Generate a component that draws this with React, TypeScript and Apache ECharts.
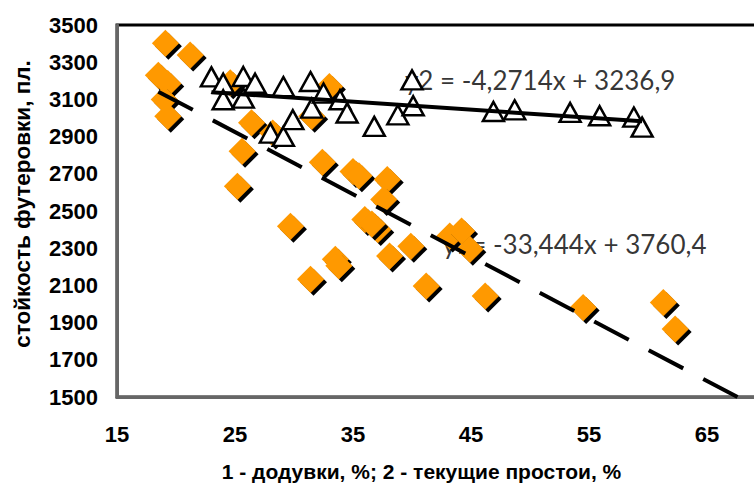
import React, { useEffect, useRef } from "react";
import * as echarts from "echarts";

// Series 1: додувки, % vs стойкость футеровки
const blowX = [19.1, 21.2, 18.5, 19.3, 19.0, 19.3, 24.6, 26.4, 28.2, 25.6, 25.2, 33.0, 31.5, 32.4, 35.0, 35.5, 37.9, 37.6, 36.0, 37.1, 36.6, 38.1, 29.7, 31.4, 33.5, 33.8, 39.9, 41.2, 43.2, 44.2, 44.9, 46.2, 54.5, 61.3, 62.3];
const blowY = [3402, 3339, 3230, 3185, 3100, 3010, 3190, 2975, 2920, 2821, 2633, 3170, 3010, 2762, 2713, 2690, 2669, 2562, 2454, 2400, 2430, 2258, 2418, 2133, 2240, 2205, 2311, 2097, 2365, 2392, 2294, 2043, 1981, 2008, 1865];

// Series 2: текущие простои, % vs стойкость футеровки
const idleX = [23.0, 24.0, 24.0, 25.7, 25.7, 26.7, 28.0, 29.1, 29.1, 29.9, 31.4, 31.5, 32.5, 33.9, 34.5, 36.8, 38.8, 40.1, 40.0, 46.9, 48.7, 53.4, 55.9, 58.8, 59.5];
const idleY = [3221, 3187, 3098, 3223, 3107, 3187, 2919, 2901, 3169, 2991, 3196, 3053, 3134, 3098, 3027, 2955, 3017, 3066, 3205, 3035, 3044, 3030, 3012, 3005, 2951];

// Linear trends
const trend1 = { slope: -33.444, intercept: 3760.4 };
const trend2 = { slope: -4.2714, intercept: 3236.9 };
const trend1Text = "y1= -33,444x + 3760,4";
const trend2Text = "y2 = -4,2714x + 3236,9";

// Tick labels
const xTickLabels = [15, 25, 35, 45, 55, 65];
const yTickLabels = [1500, 1700, 1900, 2100, 2300, 2500, 2700, 2900, 3100, 3300, 3500];

const X_MIN = 15;
const X_MAX = 70;
const Y_MIN = 1500;
const Y_MAX = 3500;

const CHART_W = 770;
const CHART_H = 487;

const tickFont = "'Liberation Sans', Arial, sans-serif";
const eqFont = "Lato, 'Liberation Sans', sans-serif";

function zip(xs: number[], ys: number[]) {
  return xs.map((x, i) => [x, ys[i]]);
}

function trendPoints(t: { slope: number; intercept: number }, x0: number, x1: number) {
  return [
    [x0, t.slope * x0 + t.intercept],
    [x1, t.slope * x1 + t.intercept],
  ];
}

export default function App() {
  const ref = useRef<HTMLDivElement>(null);

  useEffect(() => {
    if (!ref.current) return;
    const chart = echarts.init(ref.current, undefined, { renderer: "svg" });

    const blowMin = Math.min(...blowX);
    // trend 1 is extended forward until it leaves the plot at the bottom
    const blowEnd = Math.min(X_MAX, (trend1.intercept - Y_MIN) / -trend1.slope);
    const idleMin = Math.min(...idleX);
    const idleMax = Math.max(...idleX);

    const option: any = {
      animation: false,
      grid: {
        left: 117,
        top: 25,
        right: CHART_W - 766,
        bottom: 89,
        show: true,
        borderColor: "#000",
        borderWidth: 3,
        backgroundColor: "transparent",
      },
      xAxis: {
        type: "value",
        min: X_MIN,
        max: X_MAX,
        interval: 5,
        axisLine: { show: true, onZero: false, lineStyle: { color: "#666", width: 3 } },
        axisTick: { show: false },
        splitLine: { show: false },
        axisLabel: {
          formatter: (v: number) => (xTickLabels.includes(v) ? String(v) : ""),
          fontFamily: tickFont,
          fontWeight: "bold",
          fontSize: 22,
          color: "#000",
          margin: 26,
        },
        name: "1 - додувки, %; 2 - текущие простои, %",
        nameLocation: "middle",
        nameGap: 64,
        nameTextStyle: {
          fontFamily: tickFont,
          fontWeight: "bold",
          fontSize: 21,
          color: "#000",
          padding: [0, 40, 0, 0],
        },
      },
      yAxis: {
        type: "value",
        min: Y_MIN,
        max: Y_MAX,
        interval: 100,
        axisLine: { show: true, onZero: false, lineStyle: { color: "#666", width: 3 } },
        axisTick: { show: false },
        splitLine: { show: false },
        axisLabel: {
          formatter: (v: number) => (yTickLabels.includes(v) ? String(v) : ""),
          fontFamily: tickFont,
          fontWeight: "bold",
          fontSize: 22,
          color: "#000",
          margin: 19,
        },
        name: "стойкость футеровки, пл.",
        nameLocation: "middle",
        nameGap: 83,
        nameTextStyle: {
          fontFamily: tickFont,
          fontWeight: "bold",
          fontSize: 22.5,
          color: "#000",
          padding: [0, 0, 0, 14],
        },
      },
      series: [
        {
          name: "trend-labels",
          type: "scatter",
          z: 1,
          symbolSize: 0,
          silent: true,
          data: [
            { value: [39.4, 3205], label: { formatter: trend2Text } },
            { value: [42.6, 2320], label: { formatter: trend1Text } },
          ],
          label: {
            show: true,
            position: "right",
            distance: 0,
            fontFamily: eqFont,
            fontSize: 26,
            color: "#000",
          },
        },
        {
          name: "1",
          type: "scatter",
          z: 3,
          symbol: "diamond",
          symbolSize: 27,
          itemStyle: {
            color: "#FF9900",
            opacity: 1,
            shadowColor: "#000",
            shadowBlur: 0,
            shadowOffsetX: 3,
            shadowOffsetY: 3,
          },
          data: zip(blowX, blowY),
        },
        {
          name: "2",
          type: "scatter",
          z: 4,
          symbol: "triangle",
          symbolSize: [21, 19],
          itemStyle: { color: "#fff", borderColor: "#000", borderWidth: 2.5, opacity: 1 },
          data: zip(idleX, idleY),
        },
        {
          name: "trend1",
          type: "line",
          z: 5,
          symbol: "none",
          lineStyle: { color: "#000", width: 4, type: [39, 22.6] },
          data: trendPoints(trend1, blowMin, blowEnd),
        },
        {
          name: "trend2",
          type: "line",
          z: 5,
          symbol: "none",
          lineStyle: { color: "#000", width: 4 },
          data: trendPoints(trend2, idleMin, idleMax),
        },
      ],
    };

    chart.setOption(option);
    return () => chart.dispose();
  }, []);

  return (
    <div
      style={{
        position: "fixed",
        left: 0,
        top: 0,
        width: 754,
        height: 487,
        overflow: "hidden",
        background: "#fff",
      }}
    >
      <div ref={ref} style={{ width: CHART_W, height: CHART_H }} />
    </div>
  );
}
